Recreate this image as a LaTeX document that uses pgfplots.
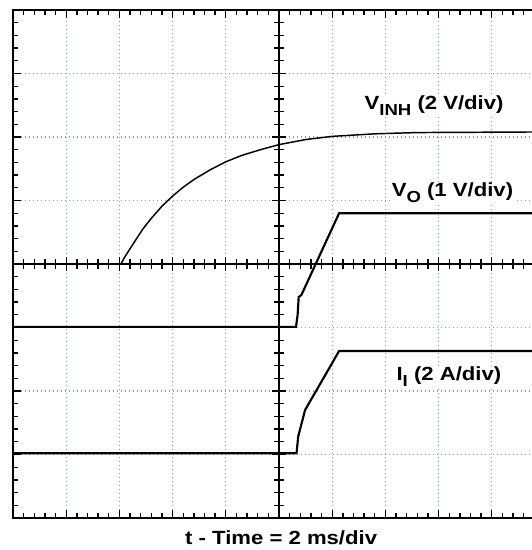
\documentclass[border=0pt]{standalone}
\usepackage{fontspec}
\setmainfont{Liberation Sans}[FakeStretch=1.16]
\usepackage{pgfplots}
\pgfplotsset{compat=1.18}

\definecolor{gridc}{RGB}{130,160,185}

\newcommand{\lbl}{\bfseries\fontsize{14.3}{16}\selectfont}
\newcommand{\sub}[1]{\raisebox{-4.5pt}{\fontsize{12}{12}\selectfont #1}}

\begin{document}
\begin{tikzpicture}
% page: 13px left margin, 10px top margin, title below; right edge cuts the graticule
\path[use as bounding box] (-9.75pt,-24pt) rectangle (389.25pt,388.5pt);
\clip (-9.75pt,-24pt) rectangle (389.25pt,388.5pt);

% frame, grid and traces (units: divisions)
\begin{axis}[
    at={(0,0)}, anchor=south west,
    width=399pt, height=381pt, scale only axis,
    xmin=0, xmax=10, ymin=0, ymax=8,
    xtick={0,...,10}, ytick={0,...,8},
    minor tick num=4,
    xticklabels={}, yticklabels={},
    tick align=inside,
    major tick length=6pt, minor tick length=4pt,
    tick style={black, line width=1pt},
    axis line style={black, line width=2.2pt},
    grid=major,
    major grid style={gridc, line width=0.8pt, dash pattern=on 0.8pt off 2.2pt},
    clip=false,
]
% V_INH
\addplot[black, line width=1.1pt] coordinates {
    (0,4.0) (2.03,4.0) (2.1,4.11) (2.2,4.24) (2.3,4.37) (2.44,4.55)
    (2.6,4.72) (2.8,4.91) (3.0,5.07) (3.2,5.21) (3.4,5.33) (3.7,5.48)
    (4.0,5.61) (4.3,5.71) (4.65,5.80) (5.0,5.88) (5.5,5.96) (6.0,6.01)
    (6.8,6.05) (7.6,6.07) (10,6.08)
};
% V_O
\addplot[black, line width=1.6pt] coordinates {
    (0,3.01) (5.32,3.01) (5.35,3.2) (5.37,3.48) (5.42,3.51) (6.13,4.8) (10,4.8)
};
% I_I
\addplot[black, line width=1.6pt] coordinates {
    (0,1.02) (5.33,1.02) (5.36,1.28) (5.49,1.70) (6.13,2.63) (10,2.63)
};

\node[anchor=base west, fill=white, inner sep=1pt] at (axis cs:6.58,6.43)
    {\lbl V\sub{INH} (2 V/div)};
\node[anchor=base west, fill=white, inner sep=1pt] at (axis cs:7.09,5.06)
    {\lbl V\sub{O} (1 V/div)};
\node[anchor=base west, fill=white, inner sep=1pt] at (axis cs:7.18,2.16)
    {\lbl I\sub{I} (2 A/div)};
\node[anchor=base, inner sep=0pt] at (axis cs:5.04,-0.425)
    {\lbl t - Time = 2 ms/div};
\end{axis}

% centre cross with graticule ticks
\begin{axis}[
    at={(0,0)}, anchor=south west,
    width=399pt, height=381pt, scale only axis,
    xmin=-5, xmax=5, ymin=-4, ymax=4,
    enlargelimits=false,
    axis lines=middle,
    axis line style={-, black, line width=1.5pt},
    xtick={-5,...,5}, ytick={-4,...,4},
    minor tick num=4,
    xticklabels={}, yticklabels={},
    tick align=center,
    major tick length=10pt, minor tick length=8pt,
    tick style={black, line width=1pt},
]
\end{axis}

% heavy graticule border
\draw[black, line width=2.2pt, line cap=rect]
    (0,0) -- (0,381pt) -- (400pt,381pt) (0,0) -- (400pt,0);
\end{tikzpicture}
\end{document}
